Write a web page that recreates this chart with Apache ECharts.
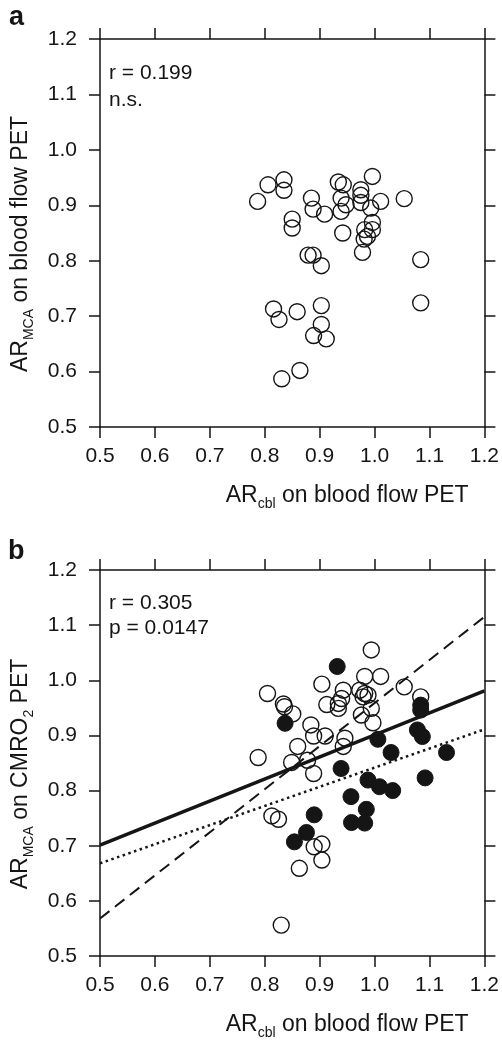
<!DOCTYPE html>
<html>
<head>
<meta charset="utf-8">
<script src="https://cdn.jsdelivr.net/npm/echarts@6/dist/echarts.min.js"></script>
<style>html,body{margin:0;padding:0;background:#fff}#c{width:502px;height:1043px}</style>
</head>
<body>
<div id="c"></div>
<script>
// Axis ticks
var xTicks = [0.5, 0.6, 0.7, 0.8, 0.9, 1.0, 1.1, 1.2];
var yTicks = [0.5, 0.6, 0.7, 0.8, 0.9, 1.0, 1.1, 1.2];

// Panel a: AR_cbl (x) vs AR_MCA on blood flow PET (y), open circles
var aOpen = [
  [0.787,0.907],[0.806,0.937],[0.835,0.946],[0.835,0.927],[0.850,0.875],[0.850,0.859],
  [0.885,0.913],[0.888,0.893],[0.909,0.884],[0.934,0.942],[0.943,0.937],[0.939,0.913],
  [0.948,0.901],[0.939,0.889],[0.942,0.850],[0.975,0.928],[0.975,0.918],[0.975,0.905],
  [0.993,0.895],[0.996,0.952],[1.011,0.907],[0.996,0.869],[0.982,0.856],[0.996,0.856],
  [0.987,0.844],[0.981,0.839],[0.978,0.815],[1.054,0.912],[0.879,0.810],[0.888,0.810],
  [0.903,0.791],[1.084,0.802],[1.084,0.724],[0.816,0.713],[0.826,0.694],[0.859,0.708],
  [0.903,0.719],[0.903,0.685],[0.889,0.665],[0.912,0.659],[0.831,0.587],[0.864,0.602]
];

// Panel b: AR_cbl (x) vs AR_MCA on CMRO2 PET (y)
var bOpen = [
  [0.994,1.055],[0.904,0.993],[0.805,0.976],[0.834,0.957],[0.836,0.952],[0.851,0.939],
  [0.913,0.956],[0.943,0.982],[0.940,0.967],[0.934,0.958],[0.934,0.949],[0.982,1.007],
  [1.011,1.007],[0.973,0.982],[0.982,0.976],[0.988,0.973],[0.979,0.970],[0.994,0.949],
  [0.976,0.937],[0.997,0.923],[1.054,0.988],[1.084,0.970],[0.884,0.919],[0.889,0.899],
  [0.910,0.899],[0.946,0.895],[0.943,0.880],[0.860,0.880],[0.849,0.851],[0.878,0.855],
  [0.889,0.831],[0.788,0.860],[0.813,0.754],[0.825,0.748],[0.904,0.703],[0.890,0.698],
  [0.904,0.674],[0.863,0.659],[0.830,0.556]
];
var bFilled = [
  [0.932,1.025],[0.837,0.922],[1.084,0.955],[1.084,0.946],[1.078,0.910],[1.087,0.898],
  [1.006,0.893],[1.030,0.869],[1.131,0.869],[0.939,0.840],[1.092,0.823],[0.988,0.819],
  [1.009,0.807],[1.033,0.800],[0.957,0.789],[0.985,0.766],[0.958,0.742],[0.982,0.741],
  [0.890,0.756],[0.876,0.724],[0.854,0.707]
];
// Regression lines (endpoints at x = 0.5 and 1.2)
var lineSolid  = [[0.5,0.701],[1.2,0.981]];
var lineDashed = [[0.5,0.568],[1.2,1.115]];
var lineDotted = [[0.5,0.668],[1.2,0.911]];

var FONT = '"Liberation Sans", Arial, Helvetica, sans-serif';
var INK = '#151515';
var rich = {
  a: {fontSize: 23, fontFamily: FONT, color: INK, lineHeight: 30, verticalAlign: 'middle'},
  s: {fontSize: 14, fontFamily: FONT, color: INK, lineHeight: 14, verticalAlign: 'bottom'}
};

function xAx(gi, labels, name) {
  return {
    type: 'value', gridIndex: gi, position: labels ? 'bottom' : 'top',
    min: xTicks[0], max: xTicks[xTicks.length - 1], interval: 0.1,
    axisLine: {show: true, onZero: false, lineStyle: {color: INK, width: 1.5}},
    axisTick: {show: true, inside: false, length: 11, lineStyle: {color: INK, width: 1.5}},
    splitLine: {show: false},
    axisLabel: {show: labels, fontSize: 21, fontFamily: FONT, color: INK, margin: 19,
      formatter: function (v) { return v.toFixed(1); }},
    name: labels ? name : '', nameLocation: 'middle', nameGap: 54,
    nameTextStyle: {rich: rich, padding: [0, 0, 0, 110]}
  };
}
function yAx(gi, labels, name) {
  return {
    type: 'value', gridIndex: gi, position: labels ? 'left' : 'right',
    min: yTicks[0], max: yTicks[yTicks.length - 1], interval: 0.1,
    axisLine: {show: true, onZero: false, lineStyle: {color: INK, width: 1.5}},
    axisTick: {show: true, inside: false, length: 11, lineStyle: {color: INK, width: 1.5}},
    splitLine: {show: false},
    axisLabel: {show: labels, fontSize: 21, fontFamily: FONT, color: INK, margin: 23,
      formatter: function (v) { return v.toFixed(1); }},
    name: labels ? name : '', nameLocation: 'middle', nameGap: 64,
    nameTextStyle: {rich: rich, padding: [0, 22, 0, 0]}
  };
}

var openStyle = {color: 'rgba(0,0,0,0)', borderColor: INK, borderWidth: 1.4, opacity: 1};
var fillStyle = {color: INK, borderColor: INK, borderWidth: 1, opacity: 1};

var option = {
  animation: false,
  backgroundColor: '#fff',
  grid: [
    {left: 100, top: 39, width: 388, height: 388},
    {left: 100, top: 570, width: 388, height: 386}
  ],
  title: [
    {text: 'a', left: 9, top: 4, padding: 0, textStyle: {fontSize: 27, fontWeight: 'bold', fontFamily: FONT, color: INK}},
    {text: 'b', left: 8, top: 538, padding: 0, textStyle: {fontSize: 27, fontWeight: 'bold', fontFamily: FONT, color: INK}},
    {text: 'r = 0.199\nn.s.', left: 109, top: 60, padding: 0,
      textStyle: {fontSize: 21, fontWeight: 'normal', lineHeight: 27, fontFamily: FONT, color: INK}},
    {text: 'r = 0.305\np = 0.0147', left: 109, top: 591, padding: 0,
      textStyle: {fontSize: 21, fontWeight: 'normal', lineHeight: 25, fontFamily: FONT, color: INK}}
  ],
  xAxis: [
    xAx(0, true, '{a|AR}{s|cbl}{a| on blood flow PET}'),
    xAx(0, false, ''),
    xAx(1, true, '{a|AR}{s|cbl}{a| on blood flow PET}'),
    xAx(1, false, '')
  ],
  yAxis: [
    yAx(0, true, '{a|AR}{s|MCA}{a| on blood flow PET}'),
    yAx(0, false, ''),
    yAx(1, true, '{a|AR}{s|MCA}{a| on CMRO}{s|2}{a| PET}'),
    yAx(1, false, '')
  ],
  series: [
    {type: 'scatter', xAxisIndex: 0, yAxisIndex: 0, data: aOpen, symbol: 'circle', symbolSize: 16, itemStyle: openStyle, z: 3},
    {type: 'line', xAxisIndex: 2, yAxisIndex: 2, data: lineSolid, symbol: 'none', lineStyle: {color: INK, width: 3.5, type: 'solid'}, z: 2},
    {type: 'line', xAxisIndex: 2, yAxisIndex: 2, data: lineDashed, symbol: 'none', lineStyle: {color: INK, width: 2, type: [12, 7]}, z: 2},
    {type: 'line', xAxisIndex: 2, yAxisIndex: 2, data: lineDotted, symbol: 'none', lineStyle: {color: INK, width: 2.5, type: [2.5, 3.5]}, z: 2},
    {type: 'scatter', xAxisIndex: 2, yAxisIndex: 2, data: bOpen, symbol: 'circle', symbolSize: 16, itemStyle: openStyle, z: 3},
    {type: 'scatter', xAxisIndex: 2, yAxisIndex: 2, data: bFilled, symbol: 'circle', symbolSize: 16, itemStyle: fillStyle, z: 4}
  ]
};
echarts.init(document.getElementById('c'), null, {renderer: 'canvas'}).setOption(option);
</script>
</body>
</html>
